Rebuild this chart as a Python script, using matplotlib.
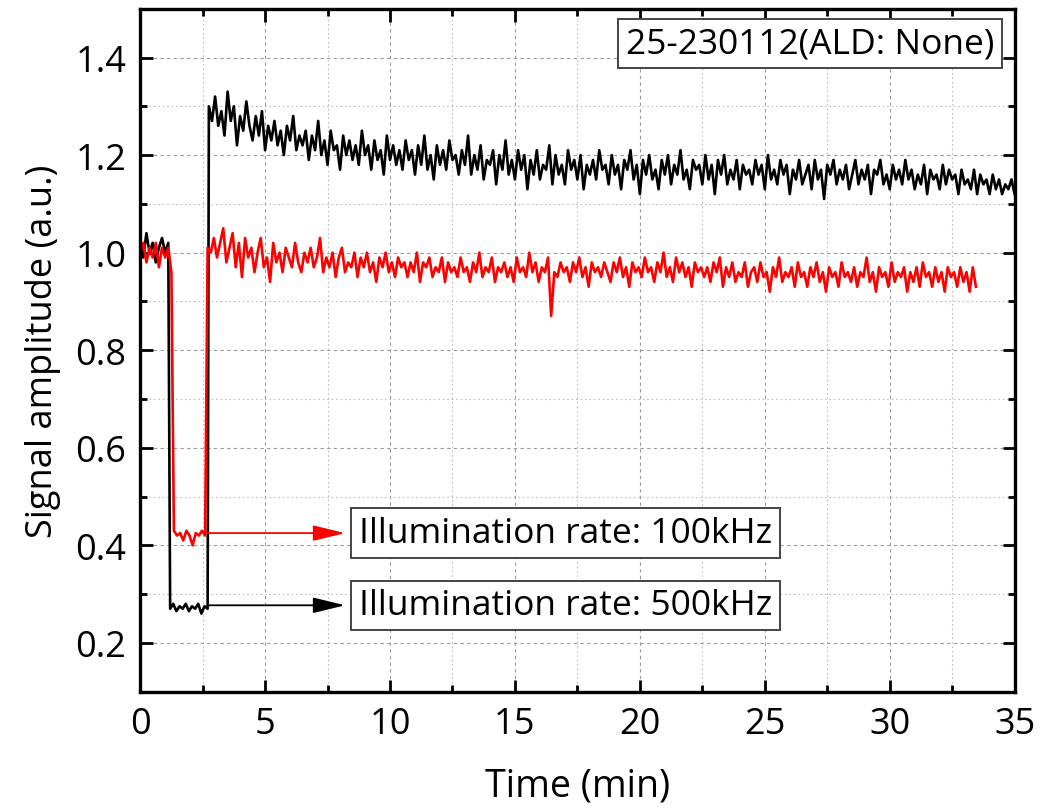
import numpy as np
import matplotlib
matplotlib.use("Agg")
import matplotlib.pyplot as plt
from matplotlib.ticker import MultipleLocator

plt.rcParams['font.family'] = ['Open Sans', 'DejaVu Sans']

STEP = 0.125  # sampling step of the traces (min)

# black trace: 500kHz illumination
black_pre_t0 = 0.0
black_pre = [1.02, 0.99, 1.04, 1.00, 1.02, 0.98, 1.01, 1.03, 1.00, 1.02]
black_low_t0 = 1.2
black_low = [0.27, 0.28, 0.265, 0.275, 0.27, 0.28, 0.265, 0.275, 0.27, 0.28, 0.26, 0.275, 0.27]
black_main_t0 = 2.75
black_main = [
    1.30, 1.27, 1.32, 1.26, 1.29, 1.24, 1.33, 1.27, 1.30, 1.22, 1.28, 1.25, 1.31, 1.26, 1.23, 1.28,
    1.24, 1.29, 1.21, 1.26, 1.23, 1.27, 1.22, 1.25, 1.20, 1.26, 1.23, 1.28, 1.21, 1.24, 1.22, 1.25,
    1.19, 1.24, 1.21, 1.27, 1.20, 1.23, 1.18, 1.25, 1.21, 1.22, 1.17, 1.24, 1.20, 1.23, 1.19, 1.22,
    1.18, 1.25, 1.20, 1.22, 1.17, 1.23, 1.19, 1.21, 1.16, 1.24, 1.19, 1.22, 1.18, 1.21, 1.17, 1.23,
    1.19, 1.21, 1.16, 1.22, 1.18, 1.24, 1.17, 1.20, 1.15, 1.22, 1.18, 1.21, 1.17, 1.23, 1.19, 1.20,
    1.16, 1.21, 1.18, 1.24, 1.16, 1.20, 1.17, 1.22, 1.15, 1.19, 1.18, 1.21, 1.14, 1.20, 1.17, 1.23,
    1.16, 1.19, 1.15, 1.21, 1.17, 1.20, 1.13, 1.19, 1.16, 1.21, 1.15, 1.18, 1.17, 1.22, 1.14, 1.20,
    1.16, 1.18, 1.14, 1.21, 1.17, 1.19, 1.15, 1.20, 1.13, 1.18, 1.16, 1.19, 1.15, 1.21, 1.17, 1.18,
    1.14, 1.20, 1.16, 1.18, 1.13, 1.19, 1.17, 1.21, 1.15, 1.18, 1.12, 1.19, 1.16, 1.20, 1.15, 1.17,
    1.13, 1.19, 1.16, 1.20, 1.14, 1.18, 1.16, 1.21, 1.15, 1.17, 1.13, 1.19, 1.17, 1.18, 1.14, 1.20,
    1.15, 1.18, 1.12, 1.19, 1.16, 1.20, 1.14, 1.17, 1.15, 1.19, 1.13, 1.18, 1.16, 1.17, 1.14, 1.19,
    1.16, 1.18, 1.13, 1.20, 1.15, 1.17, 1.14, 1.19, 1.16, 1.18, 1.12, 1.17, 1.15, 1.19, 1.14, 1.16,
    1.18, 1.13, 1.19, 1.15, 1.17, 1.11, 1.18, 1.16, 1.19, 1.14, 1.17, 1.15, 1.18, 1.13, 1.16, 1.19,
    1.14, 1.17, 1.15, 1.18, 1.12, 1.17, 1.16, 1.19, 1.14, 1.16, 1.13, 1.18, 1.15, 1.17, 1.14, 1.19,
    1.15, 1.17, 1.13, 1.16, 1.14, 1.18, 1.12, 1.17, 1.15, 1.16, 1.13, 1.18, 1.14, 1.17, 1.15, 1.16,
    1.12, 1.17, 1.14, 1.15, 1.13, 1.17, 1.12, 1.16, 1.14, 1.15, 1.12, 1.16, 1.13, 1.15, 1.12, 1.14,
    1.13, 1.15, 1.12,
]

# red trace: 100kHz illumination
red_pre_t0 = 0.0
red_pre = [1.00, 1.02, 0.98, 1.01, 0.99, 1.02, 0.97, 1.01, 0.99, 1.01, 0.96]
red_low_t0 = 1.35
red_low = [0.43, 0.42, 0.425, 0.41, 0.43, 0.42, 0.40, 0.425, 0.42, 0.43, 0.42]
red_main_t0 = 2.7
red_main = [
    1.01, 1.00, 1.03, 0.99, 1.02, 1.05, 0.98, 1.01, 1.04, 0.97, 1.02, 0.95, 1.03, 0.99, 1.01, 0.96,
    1.00, 1.03, 0.97, 0.99, 0.94, 1.02, 0.98, 1.00, 0.96, 1.01, 0.99, 0.97, 1.02, 0.98, 0.96, 1.00,
    0.98, 1.01, 0.97, 0.99, 1.03, 0.96, 0.99, 0.97, 1.00, 0.95, 0.99, 1.01, 0.96, 0.98, 0.97, 1.00,
    0.95, 0.99, 0.97, 1.00, 0.96, 0.98, 0.94, 0.99, 0.97, 1.00, 0.96, 0.98, 0.95, 0.99, 0.97, 0.98,
    0.95, 0.98, 0.96, 1.00, 0.94, 0.98, 0.97, 0.99, 0.95, 0.97, 0.96, 0.99, 0.94, 0.98, 0.96, 0.97,
    0.95, 0.99, 0.96, 0.97, 0.94, 0.98, 0.96, 1.00, 0.95, 0.97, 0.96, 0.99, 0.94, 0.97, 0.96, 0.98,
    0.95, 0.97, 0.94, 0.99, 0.96, 0.97, 0.95, 1.00, 0.96, 0.98, 0.94, 0.97, 0.96, 0.99, 0.87, 0.96,
    0.95, 0.98, 0.96, 0.97, 0.94, 0.98, 0.96, 0.99, 0.95, 0.97, 0.93, 0.98, 0.96, 0.97, 0.95, 0.98,
    0.96, 0.94, 0.98, 0.96, 0.99, 0.95, 0.97, 0.93, 0.98, 0.96, 0.97, 0.95, 0.99, 0.96, 0.97, 0.94,
    0.98, 0.96, 1.00, 0.95, 0.97, 0.94, 0.99, 0.96, 0.98, 0.95, 0.97, 0.93, 0.98, 0.96, 0.97, 0.95,
    0.97, 0.94, 0.98, 0.96, 0.99, 0.93, 0.97, 0.95, 0.98, 0.94, 0.96, 0.95, 0.98, 0.93, 0.96, 0.97,
    0.94, 0.98, 0.95, 0.96, 0.92, 0.97, 0.95, 0.99, 0.94, 0.96, 0.95, 0.97, 0.93, 0.98, 0.95, 0.96,
    0.93, 0.97, 0.95, 0.98, 0.94, 0.96, 0.92, 0.97, 0.95, 0.96, 0.93, 0.98, 0.95, 0.96, 0.94, 0.97,
    0.93, 0.96, 0.95, 0.99, 0.94, 0.96, 0.92, 0.97, 0.95, 0.96, 0.93, 0.98, 0.94, 0.96, 0.95, 0.97,
    0.92, 0.96, 0.94, 0.97, 0.93, 0.98, 0.95, 0.96, 0.93, 0.97, 0.94, 0.96, 0.92, 0.97, 0.95, 0.96,
    0.93, 0.97, 0.94, 0.96, 0.92, 0.97, 0.93,
]

label_top = "25-230112(ALD: None)"
label_red = "Illumination rate: 100kHz"
label_black = "Illumination rate: 500kHz"
red_low_level = 0.425
black_low_level = 0.277


def build(parts):
    ts, vs = [], []
    for t0, vals in parts:
        ts.append(t0 + STEP * np.arange(len(vals)))
        vs.append(np.asarray(vals))
    return np.concatenate(ts), np.concatenate(vs)


bt, bv = build([(black_pre_t0, black_pre), (black_low_t0, black_low), (black_main_t0, black_main)])
rt, rv = build([(red_pre_t0, red_pre), (red_low_t0, red_low), (red_main_t0, red_main)])

fig = plt.figure(figsize=(10.46, 8.12), dpi=100)
ax = fig.add_axes([0.134, 0.147, 0.836, 0.841])

ax.plot(bt, bv, color='black', lw=1.9)
ax.plot(rt, rv, color='red', lw=1.9)

ax.set_xlim(0, 35)
ax.set_ylim(0.1, 1.5)
ax.xaxis.set_major_locator(MultipleLocator(5))
ax.xaxis.set_minor_locator(MultipleLocator(2.5))
ax.yaxis.set_major_locator(MultipleLocator(0.2))
ax.yaxis.set_minor_locator(MultipleLocator(0.1))
ax.yaxis.set_major_formatter(plt.FuncFormatter(lambda v, p: f"{v:.1f}"))

ax.grid(which='major', color='#9a9a9a', ls=(0, (3, 3)), lw=0.8)
ax.grid(which='minor', color='#bdbdbd', ls=(0, (1.5, 2.5)), lw=0.8)
ax.set_axisbelow(True)

for s in ax.spines.values():
    s.set_linewidth(2.4)
ax.tick_params(which='both', direction='in', top=True, right=True, width=2.0)
ax.tick_params(which='major', length=9, labelsize=26, pad=10)
ax.tick_params(which='minor', length=5)

ax.set_xlabel("Time (min)", fontsize=27, labelpad=18)
ax.set_ylabel("Signal amplitude (a.u.)", fontsize=26, labelpad=10)

# arrows pointing to the labels
ax.annotate('', xy=(8.2, red_low_level), xytext=(2.7, red_low_level),
            arrowprops=dict(arrowstyle='-|>,head_length=0.9,head_width=0.22',
                            color='red', lw=1.3, mutation_scale=22, shrinkA=0, shrinkB=0))
ax.annotate('', xy=(8.2, black_low_level), xytext=(2.75, black_low_level),
            arrowprops=dict(arrowstyle='-|>,head_length=0.9,head_width=0.22',
                            color='black', lw=1.3, mutation_scale=22, shrinkA=0, shrinkB=0))

box = dict(boxstyle='square,pad=0.22', facecolor='white', edgecolor='#444444', lw=1.4)
ax.text(8.75, red_low_level, label_red, fontsize=25.5, va='center', ha='left', bbox=box)
ax.text(8.75, black_low_level, label_black, fontsize=25.5, va='center', ha='left', bbox=box)
ax.text(34.2, 1.429, label_top, fontsize=25.5, va='center', ha='right', bbox=box)

fig.savefig("out.png", dpi=100)
